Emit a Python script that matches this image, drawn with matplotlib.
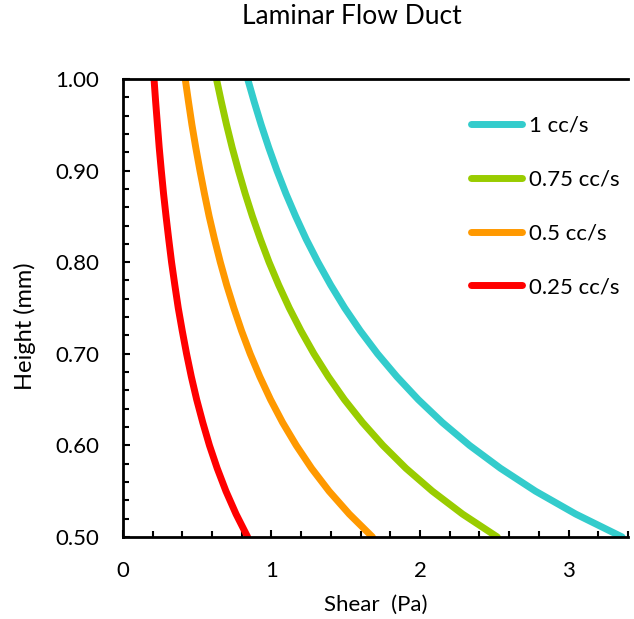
import matplotlib.pyplot as plt
from matplotlib.ticker import MultipleLocator, FormatStrFormatter

plt.rcParams['font.family'] = ['Lato', 'DejaVu Sans']

# heights (mm) and shear (Pa)
height = [0.500, 0.525, 0.550, 0.575, 0.600, 0.625, 0.650, 0.675, 0.700, 0.725, 0.750,
          0.775, 0.800, 0.825, 0.850, 0.875, 0.900, 0.925, 0.950, 0.975, 1.000]
shear_1 = [3.360, 3.048, 2.777, 2.541, 2.333, 2.150, 1.988, 1.844, 1.714, 1.598, 1.493,
           1.399, 1.313, 1.234, 1.163, 1.097, 1.037, 0.982, 0.931, 0.884, 0.840]
shear_075 = [2.520, 2.286, 2.083, 1.905, 1.750, 1.613, 1.491, 1.383, 1.286, 1.199, 1.120,
             1.049, 0.984, 0.926, 0.872, 0.823, 0.778, 0.736, 0.698, 0.663, 0.630]
shear_05 = [1.680, 1.524, 1.388, 1.270, 1.167, 1.075, 0.994, 0.922, 0.857, 0.799, 0.747,
            0.699, 0.656, 0.617, 0.581, 0.549, 0.519, 0.491, 0.465, 0.442, 0.420]
shear_025 = [0.840, 0.762, 0.694, 0.635, 0.583, 0.538, 0.497, 0.461, 0.429, 0.400, 0.373,
             0.350, 0.328, 0.309, 0.291, 0.274, 0.259, 0.245, 0.233, 0.221, 0.210]

series = [
    ('1 cc/s', shear_1, '#33CCCC'),
    ('0.75 cc/s', shear_075, '#99CC00'),
    ('0.5 cc/s', shear_05, '#FF9900'),
    ('0.25 cc/s', shear_025, '#FF0000'),
]

fig = plt.figure(figsize=(6.34, 6.19), dpi=100)
ax = fig.add_axes([0.1937, 0.1325, 0.797, 0.74])

for label, vals, color in series:
    ax.plot(vals, height, color=color, linewidth=5, label=label,
            solid_capstyle='round')

ax.set_xlim(0, 3.4)
ax.set_ylim(0.5, 1.0)
ax.xaxis.set_major_locator(MultipleLocator(1))
ax.xaxis.set_minor_locator(MultipleLocator(0.2))
ax.yaxis.set_major_locator(MultipleLocator(0.1))
ax.yaxis.set_minor_locator(MultipleLocator(0.02))
ax.yaxis.set_major_formatter(FormatStrFormatter('%.2f'))

for side in ['left', 'bottom', 'top']:
    ax.spines[side].set_linewidth(2)
ax.spines['right'].set_visible(False)

ax.tick_params(which='major', direction='in', length=5, width=1.5,
               labelsize=16, top=False, right=False, pad=17)
ax.tick_params(which='minor', direction='in', length=4, width=1.5,
               top=False, right=False)

ax.set_xlabel('Shear  (Pa)', fontsize=16, va='center')
ax.xaxis.set_label_coords(0.5, -0.148)
ax.set_ylabel('Height (mm)', fontsize=17, va='center')
ax.yaxis.set_label_coords(-0.193, 0.461)
fig.text(352 / 634, 1 - 17 / 619, 'Laminar Flow Duct', fontsize=19,
         ha='center', va='center')

ax.legend(loc='upper left', bbox_to_anchor=(0.672, 0.939), frameon=False,
          fontsize=16, handlelength=2.3, handletextpad=0.3,
          labelspacing=1.52, borderaxespad=0)

fig.savefig('out.png', dpi=100)
plt.close()
